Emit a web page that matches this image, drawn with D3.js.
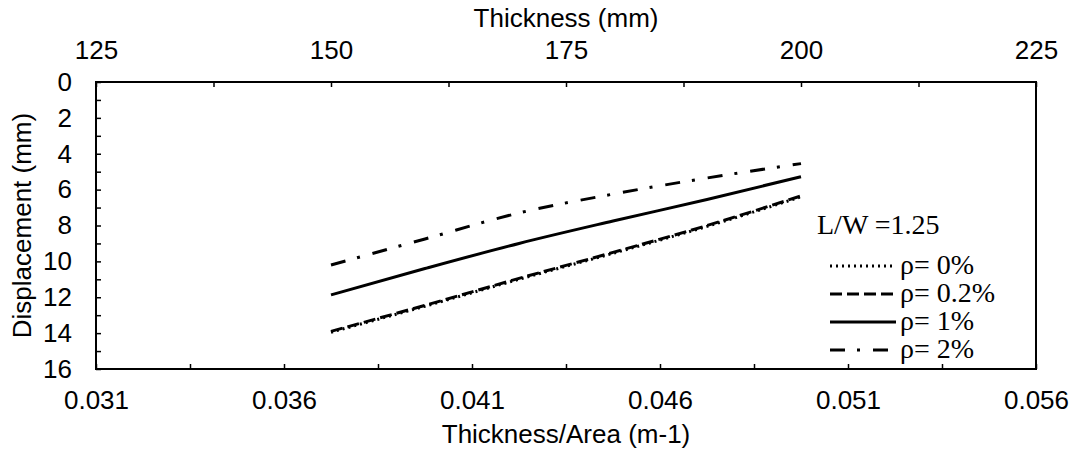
<!DOCTYPE html>
<html>
<head>
<meta charset="utf-8">
<script src="https://cdn.jsdelivr.net/npm/d3@7"></script>
<style>
  body { margin: 0; background: #fff; }
</style>
</head>
<body>
<div id="chart"></div>
<script>
// thickness (mm) at which displacement was read
const thickness = [150, 160, 170, 180, 190, 200]

// displacement (mm) per reinforcement ratio
const rho0 = [13.95, 12.5, 11.0, 9.55, 8.05, 6.4]
const rho02 = [13.9, 12.45, 10.95, 9.5, 8.0, 6.35]
const rho1 = [11.87, 10.4, 9.0, 7.75, 6.55, 5.28]
const rho2 = [10.2, 8.75, 7.3, 6.25, 5.35, 4.55]

const seriesNames = ['ρ= 0%', 'ρ= 0.2%', 'ρ= 1%', 'ρ= 2%']
const legendTitle = 'L/W =1.25'

const bottomTicks = [0.031, 0.0335, 0.036, 0.0385, 0.041, 0.0435, 0.046, 0.0485, 0.051, 0.0535, 0.056]
const topTicks = [125, 137.5, 150, 162.5, 175, 187.5, 200, 212.5, 225]
const yTicks = d3.range(0, 17, 1)

const W = 1075, H = 450
const margin = {top: 82, right: 39, bottom: 81, left: 96}
const width = W - margin.left - margin.right
const height = H - margin.top - margin.bottom

const sans = 'Liberation Sans, Arial, sans-serif'
const serif = 'Liberation Serif, Times New Roman, serif'

const styles = [
  {dash: '2,4'},
  {dash: '12,5'},
  {dash: null},
  {dash: '15,12,3,13'}
]

const svg = d3.select('#chart')
  .append('svg')
  .attr('width', W)
  .attr('height', H)

const g = svg.append('g')
  .attr('transform', `translate(${margin.left},${margin.top})`)

const xBottom = d3.scaleLinear().domain([0.031, 0.056]).range([0, width])
const xTop = d3.scaleLinear().domain([125, 225]).range([0, width])
const y = d3.scaleLinear().domain([0, 16]).range([0, height])

// box
g.append('rect')
  .attr('width', width)
  .attr('height', height)
  .attr('fill', 'none')
  .attr('stroke', '#000')
  .attr('stroke-width', 2)

// bottom axis
const bottomAxis = g.append('g')
  .attr('transform', `translate(0,${height})`)
  .call(d3.axisBottom(xBottom)
    .tickValues(bottomTicks)
    .tickSize(-5)
    .tickPadding(22)
    .tickFormat((d, i) => i % 2 === 0 ? d3.format('.3f')(d) : ''))

// top axis
const topAxis = g.append('g')
  .call(d3.axisTop(xTop)
    .tickValues(topTicks)
    .tickSize(-5)
    .tickPadding(23)
    .tickFormat((d, i) => i % 2 === 0 ? d : ''))

// left axis
const leftAxis = g.append('g')
  .call(d3.axisLeft(y)
    .tickValues(yTicks)
    .tickSize(-5)
    .tickPadding(24)
    .tickFormat(d => d % 2 === 0 ? d : ''))

;[bottomAxis, topAxis, leftAxis].forEach(a => {
  a.attr('font-size', 26).attr('font-family', sans)
  a.select('.domain').remove()
  a.selectAll('.tick line').attr('stroke', '#000').attr('stroke-width', 1.5)
  a.selectAll('.tick text').attr('fill', '#000')
})

// axis titles
svg.append('text')
  .attr('x', margin.left + width / 2)
  .attr('y', 27)
  .attr('text-anchor', 'middle')
  .attr('font-family', sans)
  .attr('font-size', 26)
  .text('Thickness (mm)')

svg.append('text')
  .attr('x', margin.left + width / 2)
  .attr('y', 443)
  .attr('text-anchor', 'middle')
  .attr('font-family', sans)
  .attr('font-size', 26)
  .text('Thickness/Area (m-1)')

svg.append('text')
  .attr('transform', `translate(31,${margin.top + height / 2}) rotate(-90)`)
  .attr('text-anchor', 'middle')
  .attr('font-family', sans)
  .attr('font-size', 26)
  .text('Displacement (mm)')

// lines
const series = [rho0, rho02, rho1, rho2]
const line = d3.line()
  .x((d, i) => xTop(thickness[i]))
  .y(d => y(d))
  .curve(d3.curveMonotoneX)

series.forEach((s, k) => {
  g.append('path')
    .datum(s)
    .attr('d', line)
    .attr('fill', 'none')
    .attr('stroke', '#000')
    .attr('stroke-width', 3)
    .attr('stroke-dasharray', styles[k].dash)
})

// legend
const legend = svg.append('g')
legend.append('text')
  .attr('x', 817)
  .attr('y', 234)
  .attr('font-family', serif)
  .attr('font-size', 28)
  .text(legendTitle)

seriesNames.forEach((name, k) => {
  const by = 274 + k * 28
  legend.append('line')
    .attr('x1', 830)
    .attr('x2', 896)
    .attr('y1', by - 8)
    .attr('y2', by - 8)
    .attr('stroke', '#000')
    .attr('stroke-width', 3)
    .attr('stroke-dasharray', styles[k].dash)
  legend.append('text')
    .attr('x', 900)
    .attr('y', by)
    .attr('font-family', serif)
    .attr('font-size', 28)
    .text(name)
})
</script>
</body>
</html>
